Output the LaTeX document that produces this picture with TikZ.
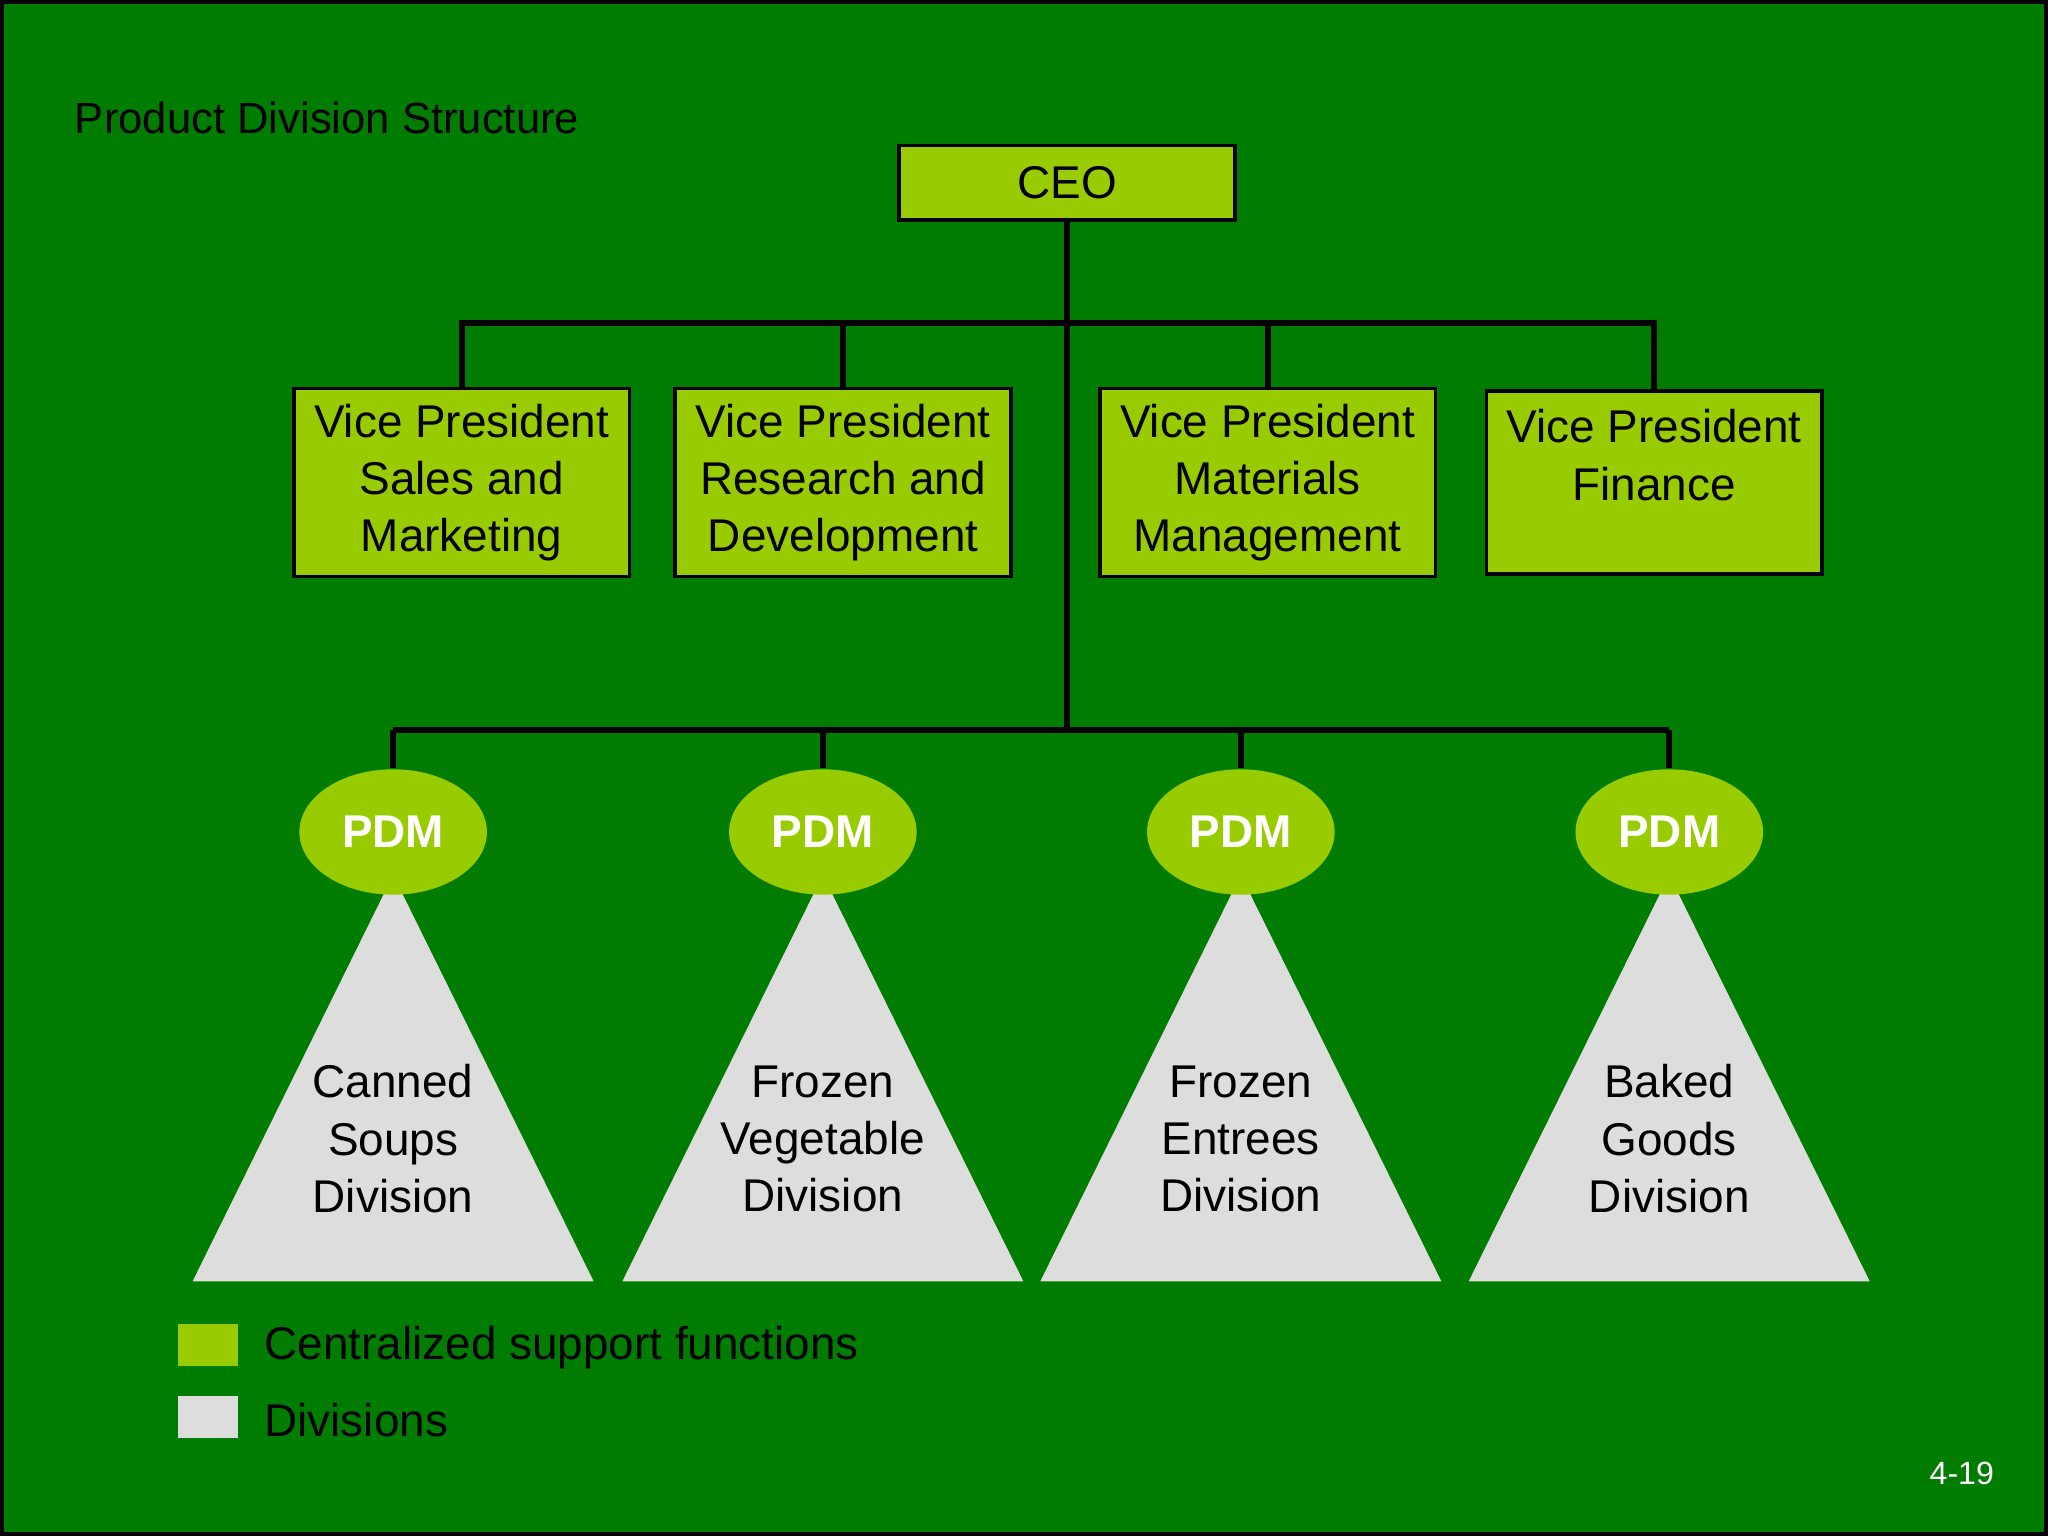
\documentclass[tikz,border=0pt]{standalone}
\usepackage{fontspec}
\setmainfont{Liberation Sans}
\usetikzlibrary{shapes.geometric}
\definecolor{bggreen}{RGB}{0,125,0}
\definecolor{boxgreen}{RGB}{153,204,0}
\definecolor{divgrey}{RGB}{221,221,221}
\tikzset{
  vp/.style={draw=black, fill=boxgreen, line width=0.8pt, minimum width=2.57cm, align=center, font=\fontsize{10}{12.5}\selectfont},
  pdm/.style={ellipse, fill=boxgreen, minimum width=1.4cm, minimum height=0.96cm, font=\fontsize{10}{12}\selectfont\bfseries, text=white},
  div/.style={fill=divgrey},
  link/.style={line width=1.3pt}
}
\begin{document}
\begin{tikzpicture}[x=1cm,y=-1cm]
	\useasboundingbox (0,0) rectangle (15.68,11.76);
	% background
	\fill[bggreen] (0,0) rectangle (15.68,11.76);
	\draw[line width=1pt] (0.01,0.01) rectangle (15.67,11.75);
	
	\node[anchor=west, font=\fontsize{9.5}{11}\selectfont] (title) at (0.45,0.90) {Product Division Structure};
	
	% top
	\node[vp, minimum height=0.57cm] (ceo) at (8.17,1.40) {CEO};
	\node[vp, minimum height=1.40cm, anchor=north] (vpsm) at (3.535,2.96) {Vice President\\Sales and\\Marketing};
	\node[vp, minimum height=1.40cm, anchor=north] (vprd) at (6.455,2.96) {Vice President\\Research and\\Development};
	\node[vp, minimum height=1.40cm, anchor=north] (vpmm) at (9.705,2.96) {Vice President\\Materials\\Management};
	\node[vp, minimum height=1.40cm, anchor=north, text depth=0.42cm] (vpf) at (12.665,2.98) {Vice President\\Finance};
	
	\coordinate (hub) at (8.17,2.47);
	\coordinate (low) at (8.17,5.59);
	\draw[link] (ceo.south) -- (low);
	\draw[link] (vpsm.north) |- (hub) -| (vpf.north);
	\draw[link] (vprd.north) -- (vprd.north |- hub);
	\draw[link] (vpmm.north) -- (vpmm.north |- hub);
	
	% divisions
	\foreach \x/\n/\t in {3.01/cs/{Canned\\Soups\\Division}, 6.30/fv/{Frozen\\Vegetable\\Division}, 9.50/fe/{Frozen\\Entrees\\Division}, 12.78/bg/{Baked\\Goods\\Division}}{
		\fill[div] (\x,6.70) -- (\x+1.535,9.81) -- (\x-1.535,9.81) -- cycle;
		\node[pdm] (p\n) at (\x,6.37) {PDM};
		\node[align=center, font=\fontsize{10}{12.5}\selectfont] (d\n) at (\x,8.72) {\t};
		\draw[link] (p\n.north) -- (p\n.north |- low);
	}
	\draw[link] (pcs.north |- low) -- (pbg.north |- low);
	
	% legend
	\node[fill=boxgreen, minimum width=0.46cm, minimum height=0.32cm, inner sep=0pt] (kc) at (1.59,10.30) {};
	\node[anchor=west, font=\fontsize{10}{12}\selectfont] (lc) at (1.90,10.32) {Centralized support functions};
	\node[fill=divgrey, minimum width=0.46cm, minimum height=0.32cm, inner sep=0pt] (kd) at (1.59,10.85) {};
	\node[anchor=west, font=\fontsize{10}{12}\selectfont] (ld) at (1.90,10.87) {Divisions};
	\node[font=\fontsize{7}{8}\selectfont, text=white] (pg) at (15.02,11.28) {4-19};
\end{tikzpicture}
\end{document}
